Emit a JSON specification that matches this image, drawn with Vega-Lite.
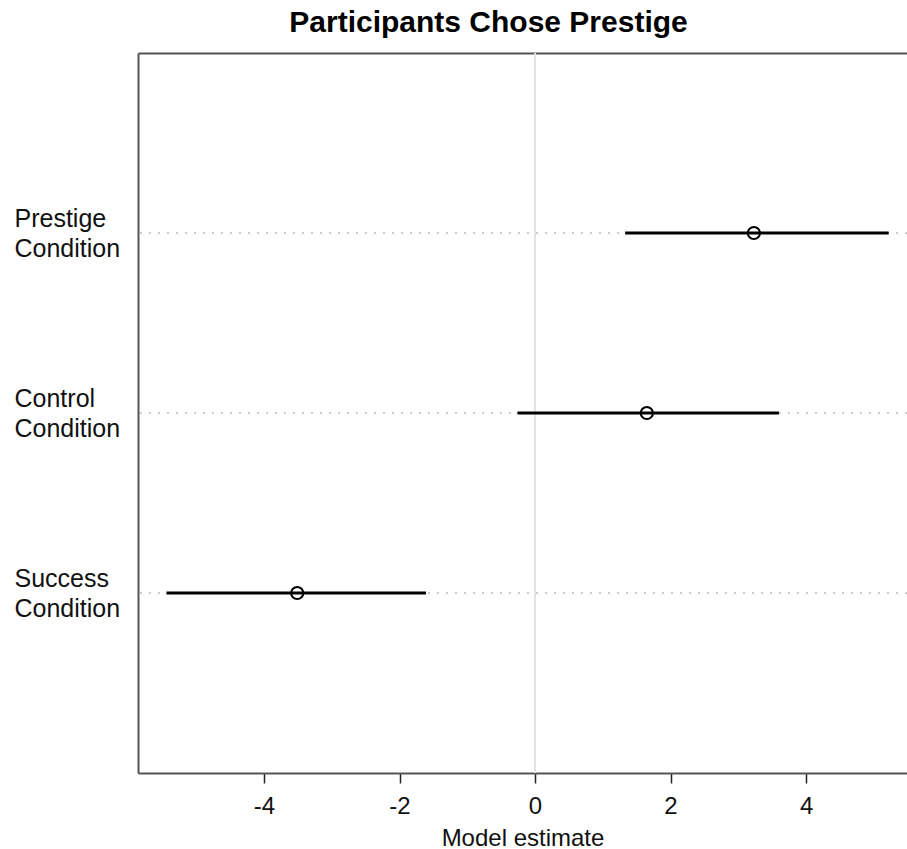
{
  "$schema": "https://vega.github.io/schema/vega-lite/v6.json",
  "width": 769,
  "height": 720,
  "autosize": {"type": "none"},
  "padding": {"left": 138, "top": 53, "right": 0, "bottom": 76},
  "background": "white",
  "title": {
    "text": "Participants Chose Prestige",
    "font": "Liberation Sans",
    "fontSize": 30,
    "fontWeight": "bold",
    "color": "#000000",
    "anchor": "middle",
    "frame": "group",
    "dx": -34,
    "baseline": "alphabetic",
    "offset": -10
  },
  "config": {
    "view": {"stroke": null},
    "font": "Liberation Sans"
  },
  "data": {
    "values": [
      {"cond": "Prestige Condition", "est": 3.23, "low": 1.33, "high": 5.22},
      {"cond": "Control Condition", "est": 1.65, "low": -0.26, "high": 3.60},
      {"cond": "Success Condition", "est": -3.51, "low": -5.44, "high": -1.61}
    ]
  },
  "resolve": {"axis": {"x": "independent"}},
  "layer": [
    {
      "mark": {"type": "rule", "color": "#e2e2e2", "strokeWidth": 1.5},
      "encoding": {
        "x": {
          "datum": 0,
          "type": "quantitative",
          "scale": {"domain": [-5.86, 5.49], "nice": false, "zero": false},
          "axis": {
            "orient": "top",
            "labels": false,
            "ticks": false,
            "grid": false,
            "title": null,
            "domain": true,
            "domainColor": "#555555",
            "domainWidth": 2
          }
        }
      }
    },
    {
      "mark": {"type": "rule", "color": "#bbbbbb", "strokeWidth": 1.5, "strokeDash": [2, 7]},
      "encoding": {
        "y": {
          "field": "cond",
          "type": "nominal",
          "sort": ["Prestige Condition", "Control Condition", "Success Condition"],
          "scale": {"type": "point", "padding": 1},
          "axis": {
            "title": null,
            "ticks": false,
            "grid": false,
            "domain": true,
            "domainColor": "#555555",
            "domainWidth": 2,
            "labelExpr": "split(datum.label, ' ')",
            "labelAlign": "left",
            "labelBaseline": "middle",
            "labelOffset": -15,
            "labelPadding": 124,
            "labelFontSize": 25,
            "labelLineHeight": 30,
            "labelColor": "#111111",
            "labelFont": "Liberation Sans"
          }
        }
      }
    },
    {
      "mark": {"type": "rule", "color": "#000000", "strokeWidth": 3.2},
      "encoding": {
        "x": {
          "field": "low",
          "type": "quantitative",
          "scale": {"domain": [-5.86, 5.49], "nice": false, "zero": false},
          "axis": {
            "orient": "bottom",
            "values": [-4, -2, 0, 2, 4],
            "labelExpr": "datum.value < 0 ? '-' + abs(datum.value) : '' + datum.value",
            "grid": false,
            "domainColor": "#555555",
            "domainWidth": 2,
            "tickColor": "#222222",
            "tickSize": 10,
            "tickWidth": 1.5,
            "labelFontSize": 24,
            "labelColor": "#111111",
            "labelPadding": 11,
            "labelFont": "Liberation Sans",
            "title": "Model estimate",
            "titleFont": "Liberation Sans",
            "titleFontSize": 24,
            "titleFontWeight": "normal",
            "titleColor": "#111111",
            "titlePadding": 8
          }
        },
        "x2": {"field": "high"},
        "y": {"field": "cond", "type": "nominal", "sort": ["Prestige Condition", "Control Condition", "Success Condition"]}
      }
    },
    {
      "mark": {"type": "point", "shape": "circle", "filled": false, "stroke": "#000000", "strokeWidth": 2, "size": 150, "opacity": 1},
      "encoding": {
        "x": {"field": "est", "type": "quantitative", "axis": null},
        "y": {"field": "cond", "type": "nominal", "sort": ["Prestige Condition", "Control Condition", "Success Condition"]}
      }
    }
  ]
}
